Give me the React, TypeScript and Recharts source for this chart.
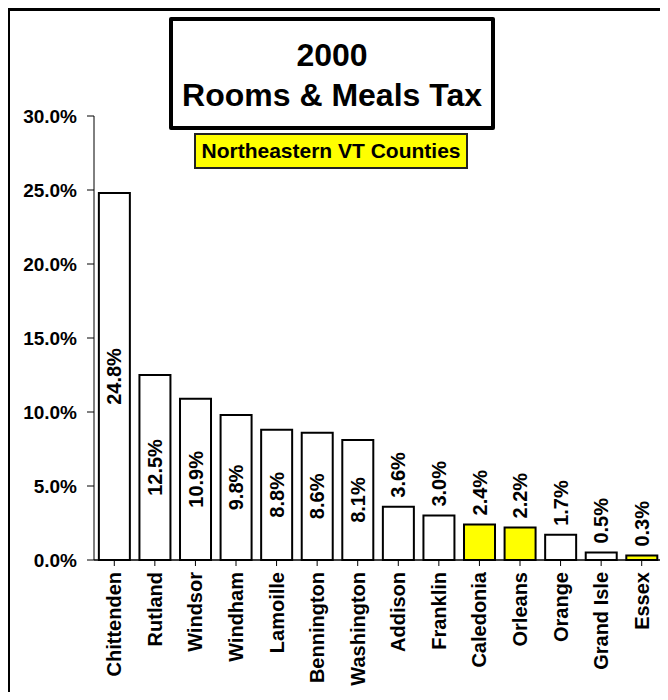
import { BarChart, Bar, XAxis, YAxis, Cell, LabelList } from "recharts";

const counties = [
  "Chittenden",
  "Rutland",
  "Windsor",
  "Windham",
  "Lamoille",
  "Bennington",
  "Washington",
  "Addison",
  "Franklin",
  "Caledonia",
  "Orleans",
  "Orange",
  "Grand Isle",
  "Essex",
];

const shares = [24.8, 12.5, 10.9, 9.8, 8.8, 8.6, 8.1, 3.6, 3.0, 2.4, 2.2, 1.7, 0.5, 0.3];

const northeastern = ["Caledonia", "Orleans", "Essex"];

const yTicks = [0, 5, 10, 15, 20, 25, 30];

const data = counties.map((name, i) => ({ name, value: shares[i] }));

const FONT = "'Liberation Sans', Arial, sans-serif";

function CountyTick(props: any) {
  const { x, y, payload } = props;
  return (
    <g transform={`translate(${x},${y})`}>
      <text
        transform="rotate(-90)"
        x={0}
        y={0}
        dy="0.35em"
        textAnchor="end"
        fill="#000"
        fontSize={20}
        fontWeight="bold"
        fontFamily={FONT}
      >
        {payload.value}
      </text>
    </g>
  );
}

function ValueLabel(props: any) {
  const { x, y, width, height, value } = props;
  const cx = x + width / 2;
  const inside = value >= 5;
  const cy = inside ? y + height / 2 : y - 9;
  return (
    <text
      transform={`translate(${cx},${cy}) rotate(-90)`}
      x={0}
      y={0}
      dy="0.35em"
      textAnchor={inside ? "middle" : "start"}
      fill="#000"
      fontSize={20}
      fontWeight="bold"
      fontFamily={FONT}
    >
      {value.toFixed(1) + "%"}
    </text>
  );
}

export default function App() {
  return (
    <div
      style={{
        position: "relative",
        margin: -8,
        width: 668,
        height: 700,
        overflow: "hidden",
        background: "#fff",
        fontFamily: FONT,
      }}
    >
      <div
        style={{
          position: "absolute",
          left: 6,
          top: 7,
          width: 720,
          height: 740,
          border: "4px solid #000",
        }}
      />

      <div style={{ position: "absolute", left: 0, top: 0 }}>
        <BarChart
          width={668}
          height={700}
          data={data}
          margin={{ top: 116, right: 6, bottom: 0, left: 0 }}
          barCategoryGap="12%"
        >
          <XAxis
            dataKey="name"
            interval={0}
            height={140}
            tickSize={6}
            tickMargin={6}
            axisLine={{ stroke: "#000", strokeWidth: 1.5 }}
            tickLine={{ stroke: "#000" }}
            tick={<CountyTick />}
          />
          <YAxis
            width={94}
            domain={[0, 30]}
            ticks={yTicks}
            interval={0}
            tickSize={7}
            tickMargin={10}
            tickFormatter={(v: number) => v.toFixed(1) + "%"}
            axisLine={{ stroke: "#000" }}
            tickLine={{ stroke: "#000" }}
            tick={{ fill: "#000", fontSize: 19, fontWeight: "bold", fontFamily: FONT }}
          />
          <Bar dataKey="value" stroke="#000" strokeWidth={2} isAnimationActive={false}>
            {data.map((d) => (
              <Cell
                key={`cell-${d.name}`}
                fill={northeastern.includes(d.name) ? "#ffff00" : "#ffffff"}
              />
            ))}
            <LabelList dataKey="value" content={<ValueLabel />} />
          </Bar>
        </BarChart>
      </div>

      <div
        style={{
          position: "absolute",
          left: 169,
          top: 17,
          width: 326,
          height: 113,
          boxSizing: "border-box",
          border: "4px solid #000",
          borderRadius: 2,
          background: "#fff",
          textAlign: "center",
          fontWeight: "bold",
          fontSize: 32,
          lineHeight: "40px",
          paddingTop: 14,
          whiteSpace: "nowrap",
        }}
      >
        <div>2000</div>
        <div>Rooms &amp; Meals Tax</div>
      </div>

      <div
        style={{
          position: "absolute",
          left: 194,
          top: 133,
          width: 274,
          height: 36,
          boxSizing: "border-box",
          border: "2px solid #222",
          background: "#ffff00",
          textAlign: "center",
          fontWeight: "bold",
          fontSize: 21,
          lineHeight: "32px",
          whiteSpace: "nowrap",
        }}
      >
        Northeastern VT Counties
      </div>
    </div>
  );
}
